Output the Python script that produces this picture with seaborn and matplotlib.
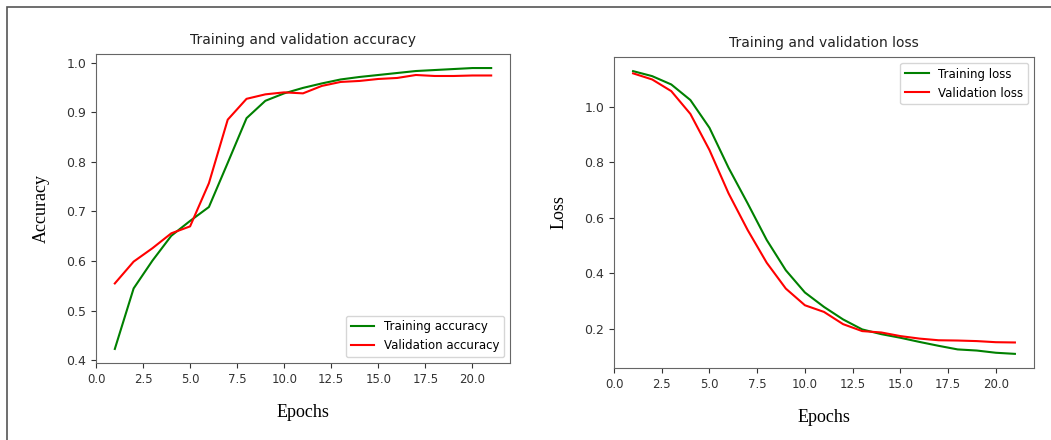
import matplotlib
matplotlib.use("Agg")
import matplotlib.pyplot as plt
import matplotlib.patches as mpatches
import seaborn as sns
import pandas as pd

epochs = list(range(1, 22))
train_acc = [0.423, 0.545, 0.601, 0.651, 0.681, 0.709, 0.798, 0.888, 0.923, 0.938,
             0.949, 0.958, 0.966, 0.971, 0.975, 0.979, 0.983, 0.985, 0.987, 0.989, 0.989]
val_acc = [0.555, 0.599, 0.626, 0.656, 0.670, 0.757, 0.885, 0.927, 0.936, 0.940,
           0.938, 0.953, 0.961, 0.963, 0.967, 0.969, 0.975, 0.973, 0.973, 0.974, 0.974]
train_loss = [1.128, 1.110, 1.080, 1.024, 0.924, 0.780, 0.652, 0.520, 0.411, 0.331,
              0.279, 0.234, 0.198, 0.181, 0.168, 0.153, 0.139, 0.126, 0.122, 0.114, 0.110]
val_loss = [1.120, 1.098, 1.056, 0.974, 0.844, 0.688, 0.556, 0.438, 0.345, 0.285,
            0.261, 0.217, 0.192, 0.187, 0.174, 0.165, 0.159, 0.158, 0.156, 0.152, 0.151]

W, H = 1051, 440
fig = plt.figure(figsize=(W / 100, H / 100), dpi=100)

def px_axes(l, t, r, b):
    return fig.add_axes([l / W, 1 - b / H, (r - l) / W, (b - t) / H])

ax1 = px_axes(96, 54, 510, 363)
ax2 = px_axes(614, 57, 1034, 368)

serif = {"family": "Liberation Serif", "size": 13}

df_acc = pd.DataFrame({"Epoch": epochs * 2,
                       "Value": train_acc + val_acc,
                       "Series": ["Training accuracy"] * 21 + ["Validation accuracy"] * 21})
df_loss = pd.DataFrame({"Epoch": epochs * 2,
                        "Value": train_loss + val_loss,
                        "Series": ["Training loss"] * 21 + ["Validation loss"] * 21})

sns.lineplot(data=df_acc, x="Epoch", y="Value", hue="Series", ax=ax1,
             palette=["#008000", "#ff0000"], linewidth=1.5)
sns.lineplot(data=df_loss, x="Epoch", y="Value", hue="Series", ax=ax2,
             palette=["#008000", "#ff0000"], linewidth=1.5)

for ax, title, ylabel, loc in [(ax1, "Training and validation accuracy", "Accuracy", "lower right"),
                               (ax2, "Training and validation loss", "Loss", "upper right")]:
    ax.set_title(title, fontsize=10, color="#222222", pad=7)
    ax.set_xlabel("Epochs", fontdict=serif, labelpad=13)
    ax.set_ylabel(ylabel, fontdict=serif, labelpad=12)
    ax.set_xlim(0, 22)
    ax.set_xticks([0, 2.5, 5, 7.5, 10, 12.5, 15, 17.5, 20])
    ax.tick_params(labelsize=9, colors="#333333")
    ax.tick_params(axis="x", labelsize=8.5)
    for s in ax.spines.values():
        s.set_color("#666666")
    ax.legend(loc=loc, fontsize=8.5, title=None)

ax1.set_yticks([0.4, 0.5, 0.6, 0.7, 0.8, 0.9, 1.0])
ax2.set_yticks([0.2, 0.4, 0.6, 0.8, 1.0])

# outer frame of the screenshot
frame = mpatches.Rectangle((7 / W, -0.1), 1.2, 1 - 7 / H + 0.1, transform=fig.transFigure,
                           fill=False, edgecolor="#555555", linewidth=1.2)
fig.patches.append(frame)

fig.savefig("out.png", dpi=100)
